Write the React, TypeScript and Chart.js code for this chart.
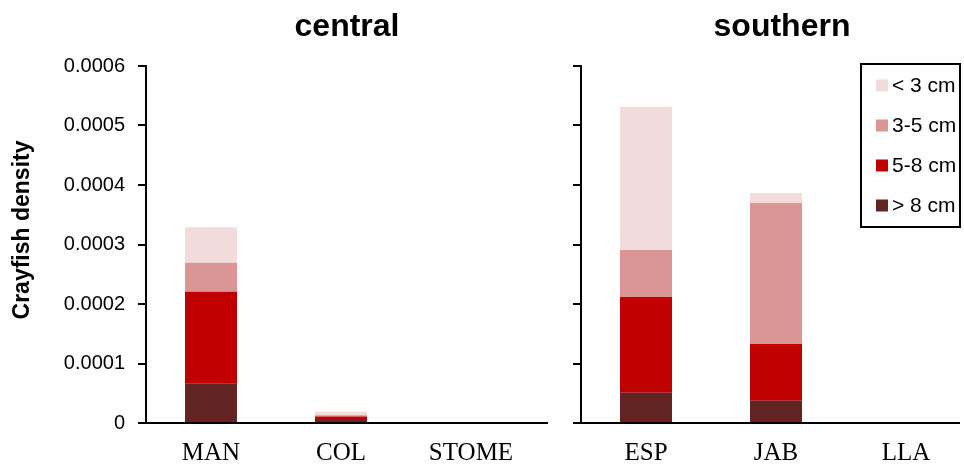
import React, { useEffect, useRef } from 'react';
import { Chart, registerables } from 'chart.js';

Chart.register(...registerables);

// ---- data ----
const centralSites = ['MAN', 'COL', 'STOME'];
const southernSites = ['ESP', 'JAB', 'LLA'];
const sizeClasses = ['> 8 cm', '5-8 cm', '3-5 cm', '< 3 cm'];
const sizeColors = ['#632523', '#C00000', '#D99694', '#F2DCDB'];

// stacked from bottom (> 8 cm) to top (< 3 cm)
const centralGt8 = [0.0000667, 0.000005, 0];
const central5to8 = [0.000154, 0.000006, 0];
const central3to5 = [0.0000487, 0.000002, 0];
const centralLt3 = [0.0000596, 0.000006, 0];

const southernGt8 = [0.0000509, 0.0000375, 0];
const southern5to8 = [0.000161, 0.0000953, 0];
const southern3to5 = [0.000079, 0.000237, 0];
const southernLt3 = [0.00024, 0.0000168, 0];

const yMin = 0;
const yMax = 0.0006;
const yStep = 0.0001;

const SANS = "'Liberation Sans', Arial, sans-serif";
const SERIF = "'Liberation Serif', 'Times New Roman', serif";

const panelTitlePlugin = {
  id: 'panelTitle',
  afterDraw(chart: any, _args: any, opts: any) {
    const ctx = chart.ctx;
    ctx.save();
    ctx.font = `bold 32px ${SANS}`;
    ctx.fillStyle = '#000';
    ctx.textAlign = 'center';
    ctx.textBaseline = 'alphabetic';
    ctx.fillText(opts.text, opts.x, opts.y);
    ctx.restore();
  },
};

const xLinePlugin = {
  id: 'xLine',
  afterDatasetsDraw(chart: any, _args: any, opts: any) {
    const { ctx, chartArea } = chart;
    ctx.save();
    ctx.strokeStyle = '#000';
    ctx.lineWidth = 2;
    ctx.beginPath();
    ctx.moveTo(chartArea.left, chartArea.bottom);
    ctx.lineTo(chartArea.right + (opts.ext || 0), chartArea.bottom);
    ctx.stroke();
    ctx.restore();
  },
};

const yTitlePlugin = {
  id: 'yTitle',
  afterDraw(chart: any, _args: any, opts: any) {
    if (!opts || !opts.text) return;
    const ctx = chart.ctx;
    ctx.save();
    ctx.translate(opts.x, opts.y);
    ctx.rotate(-Math.PI / 2);
    ctx.font = `bold 23px ${SANS}`;
    ctx.fillStyle = '#000';
    ctx.textAlign = 'center';
    ctx.textBaseline = 'middle';
    ctx.fillText(opts.text, 0, 0);
    ctx.restore();
  },
};

const boxLegendPlugin = {
  id: 'boxLegend',
  afterDraw(chart: any, _args: any, opts: any) {
    if (!opts || !opts.show) return;
    const { ctx, chartArea } = chart;
    const right = chartArea.right + opts.rightOffset;
    const left = right - opts.width;
    const top = chartArea.top + opts.topOffset;
    const ds = chart.data.datasets.slice().reverse();
    const height = opts.height;
    ctx.save();
    ctx.fillStyle = '#fff';
    ctx.fillRect(left, top, opts.width, height);
    ctx.strokeStyle = '#000';
    ctx.lineWidth = 2;
    ctx.strokeRect(left, top, opts.width, height);
    ctx.font = `21px ${SANS}`;
    ctx.textAlign = 'left';
    ctx.textBaseline = 'middle';
    ds.forEach((d: any, i: number) => {
      const cy = top + 21.5 + i * 40;
      ctx.fillStyle = d.backgroundColor;
      ctx.fillRect(left + 15, cy - 6, 12, 12);
      ctx.fillStyle = '#000';
      ctx.fillText(d.label, left + 31, cy + 1);
    });
    ctx.restore();
  },
};

function makeDatasets(series: number[][]) {
  return series.map((vals, i) => ({
    label: sizeClasses[i],
    data: vals,
    backgroundColor: sizeColors[i],
    borderWidth: 0,
    barPercentage: 0.4,
    categoryPercentage: 1,
  }));
}

function makeOptions(isLeft: boolean, yWidth: number, title: any, ext: number) {
  return {
    responsive: false,
    animation: false as const,
    layout: { padding: { left: 0, right: isLeft ? 24 : 13, top: 66, bottom: 0 } },
    plugins: {
      legend: { display: false },
      title: { display: false },
      tooltip: { enabled: false },
      panelTitle: title,
      xLine: { ext },
      yTitle: isLeft ? { text: 'Crayfish density', x: 23, y: 230 } : {},
      boxLegend: isLeft
        ? { show: false }
        : { show: true, rightOffset: -11, width: 99, height: 163, topOffset: -2 },
    },
    scales: {
      x: {
        stacked: true,
        grid: { display: false, drawTicks: false },
        border: { display: false },
        ticks: { color: '#000', font: { family: SERIF, size: 25 }, padding: 15 },
        afterFit: (s: any) => {
          s.height = 43;
        },
      },
      y: {
        stacked: true,
        min: yMin,
        max: yMax,
        ticks: {
          display: isLeft,
          stepSize: yStep,
          color: '#000',
          font: { family: SANS, size: 20 },
          padding: 13,
          callback: (v: any) => (Number(v) === 0 ? '0' : Number(v).toFixed(4)),
        },
        grid: {
          display: true,
          drawOnChartArea: false,
          drawTicks: true,
          tickLength: 8,
          color: '#000',
          lineWidth: 2,
        },
        border: { display: true, color: '#000', width: 2 },
        afterFit: (s: any) => {
          s.width = yWidth;
        },
      },
    },
  };
}

export default function App() {
  const leftRef = useRef<HTMLCanvasElement>(null);
  const rightRef = useRef<HTMLCanvasElement>(null);

  useEffect(() => {
    const left = new Chart(leftRef.current!, {
      type: 'bar',
      data: {
        labels: centralSites,
        datasets: makeDatasets([centralGt8, central5to8, central3to5, centralLt3]),
      },
      options: makeOptions(true, 146, { text: 'central', x: 347, y: 36 }, 12) as any,
      plugins: [panelTitlePlugin, xLinePlugin, yTitlePlugin, boxLegendPlugin],
    });
    const right = new Chart(rightRef.current!, {
      type: 'bar',
      data: {
        labels: southernSites,
        datasets: makeDatasets([southernGt8, southern5to8, southern3to5, southernLt3]),
      },
      options: makeOptions(false, 21, { text: 'southern', x: 222, y: 36 }, -11) as any,
      plugins: [panelTitlePlugin, xLinePlugin, yTitlePlugin, boxLegendPlugin],
    });
    return () => {
      left.destroy();
      right.destroy();
    };
  }, []);

  return (
    <div
      style={{
        position: 'fixed',
        left: 0,
        top: 0,
        width: 964,
        height: 466,
        overflow: 'hidden',
        background: '#fff',
      }}
    >
      <canvas
        ref={leftRef}
        width={560}
        height={466}
        style={{ position: 'absolute', left: 0, top: 0, width: 560, height: 466 }}
      />
      <canvas
        ref={rightRef}
        width={424}
        height={466}
        style={{ position: 'absolute', left: 560, top: 0, width: 424, height: 466 }}
      />
    </div>
  );
}
